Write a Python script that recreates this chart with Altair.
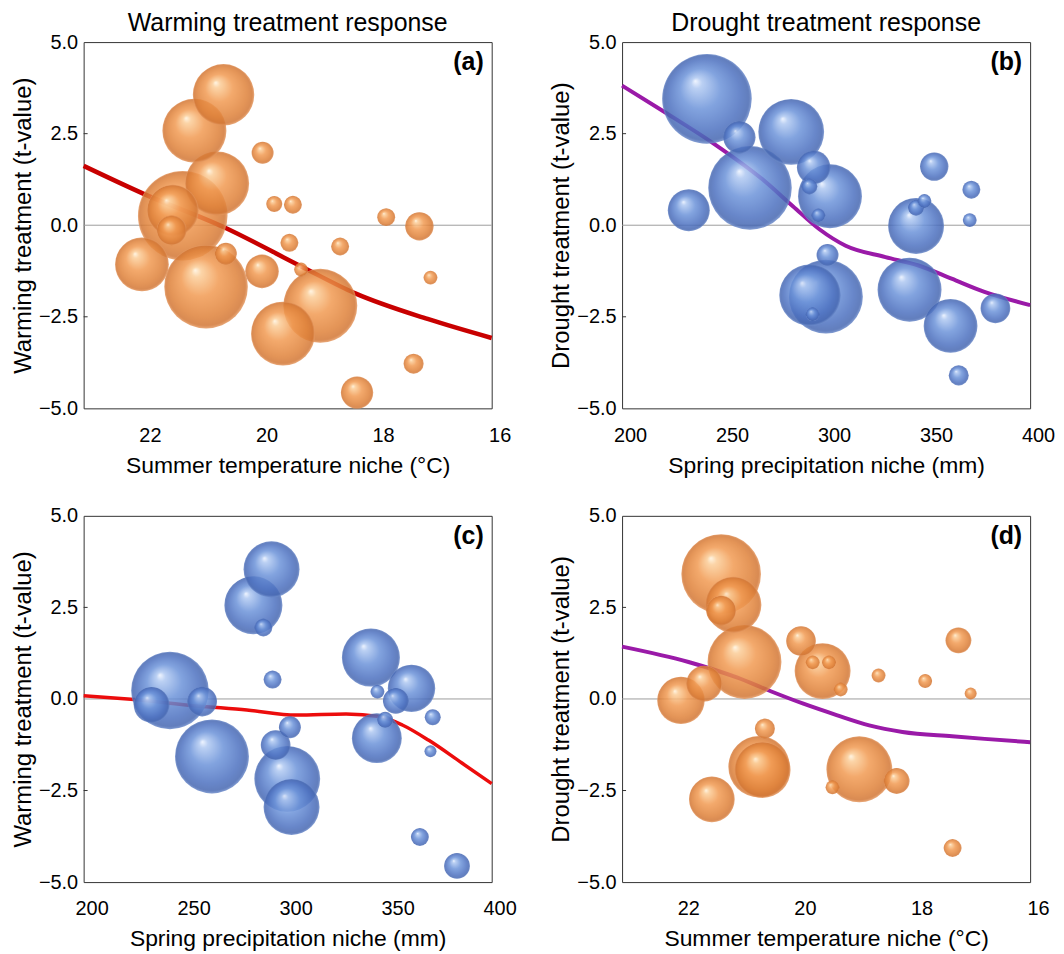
import altair as alt
import pandas as pd

# ---------------- data ----------------
# (a) warming response vs summer temperature niche
a_temp = [20.60, 21.10, 20.71, 21.30, 21.47, 21.49, 22.00, 20.90, 20.56, 19.93, 19.73, 19.41,
          19.94, 19.47, 19.27, 18.94, 19.58, 18.60, 17.81, 17.24, 17.05, 17.34, 18.31]
a_tval = [3.56, 2.58, 1.14, 0.26, 0.40, -0.14, -1.07, -1.68, -0.78, 1.98, 0.58, 0.56,
          -1.26, -0.48, -1.21, -2.20, -2.96, -0.58, 0.22, -0.03, -1.43, -3.78, -4.57]
a_abund = [47, 51, 51, 100, 33, 11, 36, 87, 6, 6, 3.2, 4,
           14, 4, 2.4, 68, 51, 4, 4, 10, 2.4, 5, 13]
a_fit_temp = [23.0, 21.96, 20.60, 19.25, 18.34, 17.10, 16.0]
a_fit_tval = [1.62, 0.85, -0.05, -1.14, -1.86, -2.56, -3.08]

# (b) drought response vs spring precipitation niche
b_prec = [241.6, 257.5, 282.9, 262.7, 232.7, 293.9, 301.9, 291.8, 296.2, 300.7, 299.9, 292.1,
          293.4, 353.0, 371.2, 370.4, 348.2, 344.1, 344.1, 340.9, 361.0, 383.0, 365.0]
b_tval = [3.45, 2.40, 2.55, 1.02, 0.41, 1.58, 0.79, 1.06, 0.27, -0.81, -1.95, -1.91,
          -2.43, 1.60, 0.97, 0.14, 0.66, 0.48, -0.02, -1.76, -2.75, -2.27, -4.10]
b_abund = [100, 13, 54, 87, 22, 14, 51, 3.2, 2.4, 6, 68, 47,
           2.4, 10, 4, 2.4, 2.4, 3.2, 39, 51, 36, 11, 5]
b_fit_prec = [200, 222.0, 244.9, 269.1, 283.7, 296.7, 309.6, 329.1, 345.3, 361.5, 377.6, 400]
b_fit_tval = [3.81, 3.05, 2.23, 1.24, 0.52, -0.11, -0.56, -0.87, -1.10, -1.46, -1.82, -2.18]

# (c) warming response vs spring precipitation niche
c_prec = [292.1, 283.2, 288.1, 292.6, 242.3, 233.3, 258.1, 262.9, 301.1, 294.1, 299.8,
          301.9, 340.8, 344.0, 360.7, 353.0, 347.8, 343.7, 371.1, 370.0, 364.8, 383.0]
c_tval = [3.54, 2.56, 1.95, 0.53, 0.23, -0.16, -0.07, -1.57, -0.77, -1.26, -2.18,
          -2.95, 1.13, 0.20, 0.29, -0.05, -0.57, -1.07, -0.50, -1.43, -3.77, -4.56]
c_abund = [39, 42, 4, 4, 75, 16, 11, 68, 6, 11, 54,
           39, 42, 2.4, 28, 8.3, 3.2, 31, 3.2, 1.8, 4, 8.3]
c_fit_prec = [200, 223.2, 255.6, 280.0, 304.3, 328.6, 344.8, 356.2, 369.2, 385.4, 400]
c_fit_tval = [0.09, -0.01, -0.19, -0.30, -0.44, -0.41, -0.48, -0.71, -1.13, -1.75, -2.31]

# (d) drought response vs summer temperature niche
d_temp = [21.30, 21.09, 21.30, 20.90, 21.59, 21.99, 19.93, 19.56, 19.73, 19.45, 19.25, 18.60,
          17.80, 17.23, 17.02, 20.55, 20.65, 20.59, 21.46, 18.93, 19.39, 18.29, 17.33]
d_tval = [3.41, 2.57, 2.41, 1.01, 0.42, -0.04, 1.58, 0.76, 1.00, 1.00, 0.26, 0.64,
          0.49, 1.60, 0.15, -0.81, -1.85, -1.94, -2.74, -1.92, -2.41, -2.24, -4.07]
d_abund = [79, 39, 11, 68, 16, 28, 11, 39, 2.4, 2.4, 2.4, 2.4,
           2.4, 8.3, 1.8, 5, 47, 39, 26, 54, 2.4, 8.3, 4]
d_fit_temp = [23.0, 21.86, 21.02, 20.45, 19.89, 19.32, 18.76, 18.19, 17.34, 16.78, 16.0]
d_fit_tval = [1.43, 1.01, 0.58, 0.21, -0.13, -0.44, -0.72, -0.90, -1.02, -1.09, -1.18]

temp_ticks = [16, 18, 20, 22]
prec_ticks = [200, 250, 300, 350, 400]
t_ticks = [-5, -2.5, 0, 2.5, 5]

# ---------------- styling ----------------
W, H = 410, 368
FONT = "Liberation Sans"


def radial(stops):
    return alt.RadialGradient(
        gradient="radial",
        stops=[alt.GradientStop(offset=o, color=c) for o, c in stops],
        x1=0.37, y1=0.3, r1=0.0, x2=0.5, y2=0.5, r2=0.5,
    )


ORANGE = radial([(0, "#fff4e0"), (0.12, "#fbcd98"), (0.45, "#f19a52"),
                 (0.8, "#df823a"), (0.95, "#d27634"), (1, "#e69b64")])
BLUE = radial([(0, "#edf3ff"), (0.12, "#afc8f1"), (0.45, "#6c93d9"),
               (0.8, "#4d71c0"), (0.95, "#4667b1"), (1, "#6e8dcc")])


def panel(xs, ys, ab, fx, fy, temp_axis, xtitle, ytitle, fill, line_color,
          line_width, tag, title=None):
    pts = pd.DataFrame({"x": xs, "y": ys, "s": ab}).sort_values("s", ascending=False)
    fit = pd.DataFrame({"x": fx, "y": fy})
    if temp_axis:
        xscale = alt.Scale(domain=[16, 23], reverse=True, nice=False, zero=False)
        xvals = temp_ticks
    else:
        xscale = alt.Scale(domain=[200, 400], nice=False, zero=False)
        xvals = prec_ticks
    yscale = alt.Scale(domain=[-5, 5], nice=False, zero=False)
    xax = alt.Axis(title=xtitle, values=xvals, format="d", labelOffset=8,
                   labelFlush=False, labelPadding=17, titlePadding=9,
                   titleFontSize=23)
    yax = alt.Axis(title=ytitle, values=t_ticks, format=".1f", labelPadding=6,
                   titlePadding=3, titleFontSize=24)
    xenc = alt.X("x:Q", scale=xscale, axis=xax)
    yenc = alt.Y("y:Q", scale=yscale, axis=yax)

    zero = alt.Chart(pd.DataFrame({"y": [0]})).mark_rule(
        color="#9c9c9c", strokeWidth=1).encode(y=yenc, x=alt.value(0), x2=alt.value(W))
    ticks = alt.Chart(pd.DataFrame({"y": [2.5, -2.5]})).mark_rule(
        color="#333333", strokeWidth=1).encode(y=yenc, x=alt.value(0), x2=alt.value(4))
    line = alt.Chart(fit).mark_line(
        color=line_color, strokeWidth=line_width, interpolate="monotone").encode(
        x=xenc, y=yenc)
    bubbles = alt.Chart(pts).mark_circle(fill=fill, opacity=0.85, strokeWidth=0).encode(
        x=xenc, y=yenc,
        size=alt.Size("s:Q", scale=alt.Scale(domain=[0, 100], range=[0, 8100]), legend=None),
    )
    label = alt.Chart(pd.DataFrame({"t": [tag]})).mark_text(
        align="right", baseline="alphabetic", font=FONT, fontSize=25,
        fontWeight="bold", color="black").encode(
        text="t:N", x=alt.value(W - 8), y=alt.value(28))
    props = dict(width=W, height=H)
    if title:
        props["title"] = alt.Title(title, fontSize=25, font=FONT, fontWeight="normal",
                                   offset=-4, anchor="middle", color="black")
    return alt.layer(zero, ticks, line, bubbles, label).properties(**props)


pa = panel(a_temp, a_tval, a_abund, a_fit_temp, a_fit_tval, True,
           "Summer temperature niche (°C)", "Warming treatment (t-value)",
           ORANGE, "#c80000", 4.5, "(a)", "Warming treatment response")
pb = panel(b_prec, b_tval, b_abund, b_fit_prec, b_fit_tval, False,
           "Spring precipitation niche (mm)", "Drought treatment (t-value)",
           BLUE, "#9a1aa8", 4, "(b)", "Drought treatment response")
pc = panel(c_prec, c_tval, c_abund, c_fit_prec, c_fit_tval, False,
           "Spring precipitation niche (mm)", "Warming treatment (t-value)",
           BLUE, "#ec0c0c", 3.5, "(c)")
pd_ = panel(d_temp, d_tval, d_abund, d_fit_temp, d_fit_tval, True,
            "Summer temperature niche (°C)", "Drought treatment (t-value)",
            ORANGE, "#9a1aa8", 4, "(d)")

chart = alt.concat(pa, pb, pc, pd_, columns=2, bounds="flush",
                   spacing={"row": 108, "column": 131}).properties(
    padding={"left": 3, "top": 0, "right": 0, "bottom": 0}
).configure_view(
    stroke="#333333", strokeWidth=1
).configure_axis(
    labelFont=FONT, labelFontSize=20, labelColor="black",
    titleFont=FONT, titleFontWeight="normal", titleColor="black",
    ticks=False, tickSize=0, domain=False, grid=False,
)

chart.save("out.html", embed_options={"renderer": "svg", "actions": False})
